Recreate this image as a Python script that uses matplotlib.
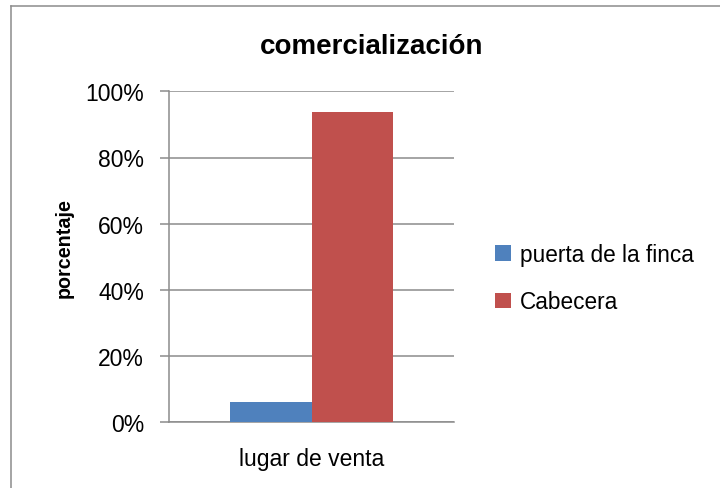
import matplotlib
matplotlib.use("Agg")
import matplotlib.pyplot as plt
from matplotlib.lines import Line2D
from matplotlib.patches import Patch
from matplotlib.ticker import FuncFormatter

categories = ["lugar de venta"]
series_names = ["puerta de la finca", "Cabecera"]
series_values = [[6.25], [93.75]]
series_colors = ["#4F81BD", "#C0504D"]
y_ticks = [0, 20, 40, 60, 80, 100]

plt.rcParams["font.family"] = ["Liberation Sans", "DejaVu Sans"]
GRAY = "#8C8C8C"

fig = plt.figure(figsize=(7.2, 4.89), dpi=100)
ax = fig.add_axes([169 / 720, 1 - 423.3 / 489, 285 / 720, 331 / 489])

width = 1 / 3.5
for i, (name, vals, color) in enumerate(zip(series_names, series_values, series_colors)):
    offset = (i - 0.5) * width
    ax.bar([k + offset for k in range(len(categories))], vals, width=width,
           color=color, label=name, zorder=3)

ax.set_xlim(-0.5, len(categories) - 0.5)
ax.set_ylim(0, 100)
ax.set_yticks(y_ticks)
ax.yaxis.set_major_formatter(FuncFormatter(lambda v, _: f"{v:.0f}%"))
ax.set_xticks(range(len(categories)))
ax.set_xticklabels(categories)
ax.tick_params(axis="x", length=0, pad=18, labelsize=16.5)
ax.tick_params(axis="y", length=6.5, width=1.1, color=GRAY, pad=11.5, labelsize=16.5)
ax.yaxis.grid(True, color=GRAY, lw=1.1, zorder=0)
for side in ["top", "right"]:
    ax.spines[side].set_visible(False)
for side in ["left", "bottom"]:
    ax.spines[side].set_color(GRAY)
    ax.spines[side].set_linewidth(1.1)

fig.text(372 / 720, 1 - 47 / 489, "comercialización", ha="center", va="center",
         fontsize=20, fontweight="bold")
fig.text(64 / 720, 1 - 248 / 489, "porcentaje", ha="center", va="center",
         rotation=90, fontsize=14.2, fontweight="bold")

handles = [Patch(facecolor=c, label=n) for n, c in zip(series_names, series_colors)]
fig.legend(handles=handles, loc="center left", bbox_to_anchor=(475 / 720, 1 - 279 / 489),
           frameon=False, fontsize=16.3, handlelength=0.7, handleheight=0.7,
           handletextpad=0.4, labelspacing=1.1)

# chart area border (only top and left edges fall inside the image)
fig.add_artist(Line2D([10.7 / 720, 10.7 / 720], [0, 1 - 6.7 / 489],
                      transform=fig.transFigure, color=GRAY, lw=1.1))
fig.add_artist(Line2D([10.7 / 720, 1], [1 - 6.7 / 489, 1 - 6.7 / 489],
                      transform=fig.transFigure, color=GRAY, lw=1.1))

fig.savefig("out.png", dpi=100)
